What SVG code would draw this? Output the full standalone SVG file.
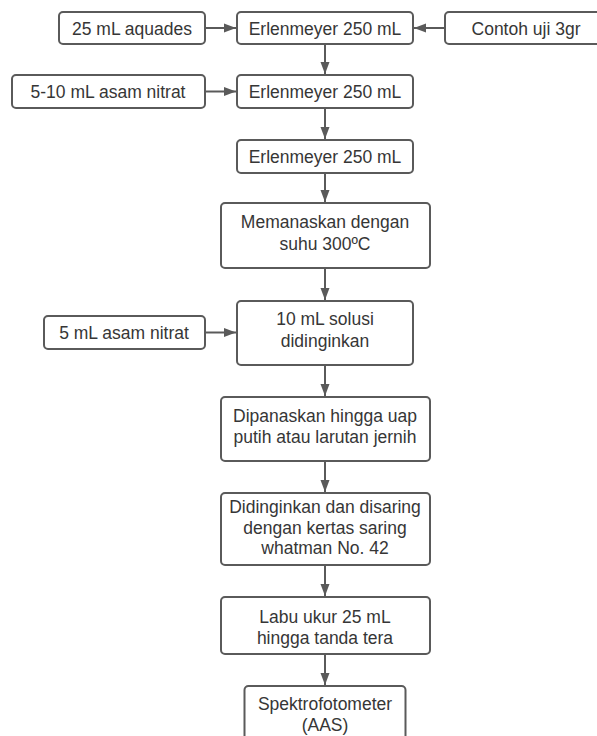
<svg xmlns="http://www.w3.org/2000/svg" width="597" height="736" viewBox="0 0 597 736">
<style>
.box{fill:#fff;stroke:#5a5a5a;stroke-width:2}
.t{font-family:"Liberation Sans",Arial,sans-serif;font-size:17.5px;fill:#363636;text-anchor:middle}
.c{stroke:#5a5a5a;stroke-width:2;fill:none}
</style>
<defs>
<marker id="ah" markerWidth="12" markerHeight="10" refX="12" refY="5" orient="auto" markerUnits="userSpaceOnUse">
<path d="M0,0.5 L12,5 L0,9.5 Z" fill="#5a5a5a"/>
</marker>
</defs>
<rect width="597" height="736" fill="#fff"/>
<g id="connectors">
<line class="c" x1="205" y1="28" x2="236" y2="28" marker-end="url(#ah)"/>
<line class="c" x1="445" y1="28" x2="414" y2="28" marker-end="url(#ah)"/>
<line class="c" x1="325" y1="44" x2="325" y2="74" marker-end="url(#ah)"/>
<line class="c" x1="205" y1="91.5" x2="236" y2="91.5" marker-end="url(#ah)"/>
<line class="c" x1="325" y1="108" x2="325" y2="139" marker-end="url(#ah)"/>
<line class="c" x1="325" y1="173" x2="325" y2="202" marker-end="url(#ah)"/>
<line class="c" x1="325" y1="268" x2="325" y2="300" marker-end="url(#ah)"/>
<line class="c" x1="205" y1="332.5" x2="236" y2="332.5" marker-end="url(#ah)"/>
<line class="c" x1="325" y1="365" x2="325" y2="396" marker-end="url(#ah)"/>
<line class="c" x1="325" y1="461" x2="325" y2="492" marker-end="url(#ah)"/>
<line class="c" x1="325" y1="565" x2="325" y2="596" marker-end="url(#ah)"/>
<line class="c" x1="325" y1="654" x2="325" y2="685" marker-end="url(#ah)"/>
</g>
<g id="n-aquades"><rect class="box" x="59" y="12" width="146" height="32" rx="4"/><text class="t" x="132" y="35">25 mL aquades</text></g>
<g id="n-erlen1"><rect class="box" x="237" y="12" width="176" height="32" rx="4"/><text class="t" x="325" y="35">Erlenmeyer 250 mL</text></g>
<g id="n-contoh"><rect class="box" x="445" y="12" width="162" height="32" rx="4"/><text class="t" x="526" y="35">Contoh uji 3gr</text></g>
<g id="n-asam1"><rect class="box" x="12" y="75" width="193" height="33" rx="4"/><text class="t" x="108" y="98">5-10 mL asam nitrat</text></g>
<g id="n-erlen2"><rect class="box" x="237" y="75" width="176" height="33" rx="4"/><text class="t" x="325" y="98">Erlenmeyer 250 mL</text></g>
<g id="n-erlen3"><rect class="box" x="237" y="140" width="176" height="33" rx="4"/><text class="t" x="325" y="163">Erlenmeyer 250 mL</text></g>
<g id="n-memanaskan"><rect class="box" x="221" y="203" width="209" height="65" rx="4"/><text class="t" x="325" y="227.5">Memanaskan dengan</text><text class="t" x="325" y="249.5">suhu 300ºC</text></g>
<g id="n-asam2"><rect class="box" x="44" y="316" width="161" height="33" rx="4"/><text class="t" x="124" y="339">5 mL asam nitrat</text></g>
<g id="n-solusi"><rect class="box" x="237" y="301" width="176" height="64" rx="4"/><text class="t" x="325" y="325">10 mL solusi</text><text class="t" x="325" y="346.5">didinginkan</text></g>
<g id="n-dipanaskan"><rect class="box" x="221" y="397" width="209" height="64" rx="4"/><text class="t" x="325" y="421.5">Dipanaskan hingga uap</text><text class="t" x="325" y="442.5">putih atau larutan jernih</text></g>
<g id="n-didinginkan"><rect class="box" x="221" y="493" width="209" height="72" rx="4"/><text class="t" x="325" y="513">Didinginkan dan disaring</text><text class="t" x="325" y="533.5">dengan kertas saring</text><text class="t" x="325" y="554">whatman No. 42</text></g>
<g id="n-labu"><rect class="box" x="221" y="597" width="209" height="57" rx="4"/><text class="t" x="325" y="622.5">Labu ukur 25 mL</text><text class="t" x="325" y="643.5">hingga tanda tera</text></g>
<g id="n-spektro"><rect class="box" x="244.5" y="686" width="161" height="60" rx="4"/><text class="t" x="325" y="710">Spektrofotometer</text><text class="t" x="325" y="731">(AAS)</text></g>
</svg>
